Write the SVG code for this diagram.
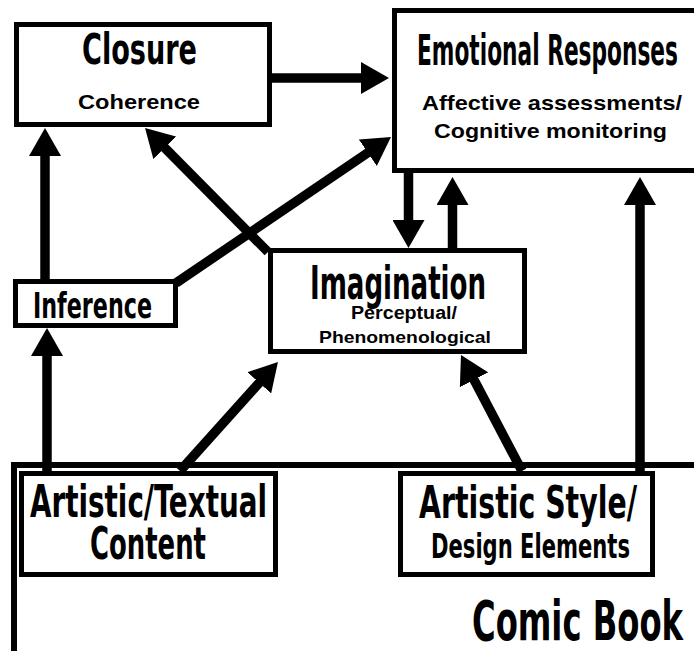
<svg xmlns="http://www.w3.org/2000/svg" width="694" height="651" viewBox="0 0 694 651">
<style>
.box{fill:#fff;stroke:#000;stroke-width:5}
.frame{fill:none;stroke:#000;stroke-width:6}
.conn{stroke:#000;stroke-width:9.5;fill:none;marker-end:url(#ah)}
.t{font-family:"DejaVu Sans Condensed","DejaVu Sans",sans-serif;font-weight:bold;fill:#000;text-anchor:middle}
.s{font-family:"Liberation Sans",Arial,sans-serif;font-weight:bold;fill:#000;text-anchor:middle}
</style>
<defs>
<marker id="ah" viewBox="0 0 28 32" refX="14" refY="16" markerWidth="28" markerHeight="32" markerUnits="userSpaceOnUse" orient="auto">
<path d="M0,0 L28,16 L0,32 Z" fill="#000"/>
</marker>
</defs>
<rect width="694" height="651" fill="#fff"/>
<g id="comic-book">
<rect class="frame" x="14" y="465" width="700" height="200"/>
<text class="t" x="577.5" y="640" font-size="56" textLength="211" lengthAdjust="spacingAndGlyphs">Comic Book</text>
</g>
<g id="connectors">
<line class="conn" x1="272" y1="78" x2="375" y2="78"/>
<line class="conn" x1="45" y1="280" x2="45" y2="142"/>
<line class="conn" x1="268" y1="252" x2="154.9" y2="137.9"/>
<line class="conn" x1="176" y1="283" x2="379.4" y2="144.9"/>
<line class="conn" x1="408.5" y1="172" x2="408.5" y2="234"/>
<line class="conn" x1="452.5" y1="249" x2="452.5" y2="191"/>
<line class="conn" x1="47" y1="472" x2="47" y2="342"/>
<line class="conn" x1="180" y1="471" x2="268.6" y2="372.4"/>
<line class="conn" x1="522" y1="471" x2="467.5" y2="367.4"/>
<line class="conn" x1="640" y1="472" x2="640" y2="191"/>
</g>
<g id="closure">
<rect class="box" x="16.5" y="24.5" width="253" height="100"/>
<text class="t" x="139.5" y="64" font-size="42" textLength="115" lengthAdjust="spacingAndGlyphs">Closure</text>
<text class="s" x="139" y="109" font-size="21" textLength="122" lengthAdjust="spacingAndGlyphs">Coherence</text>
</g>
<g id="emotional-responses">
<rect class="box" x="394.5" y="10.5" width="305" height="160"/>
<text class="t" x="547.5" y="65" font-size="43" textLength="261" lengthAdjust="spacingAndGlyphs">Emotional Responses</text>
<text class="s" x="552" y="110" font-size="21" textLength="260" lengthAdjust="spacingAndGlyphs">Affective assessments/</text>
<text class="s" x="550.5" y="138" font-size="21" textLength="233" lengthAdjust="spacingAndGlyphs">Cognitive monitoring</text>
</g>
<g id="inference">
<rect class="box" x="15.5" y="281.5" width="160" height="44"/>
<text class="t" x="92.5" y="318" font-size="36" textLength="119" lengthAdjust="spacingAndGlyphs">Inference</text>
</g>
<g id="imagination">
<rect class="box" x="270.5" y="250.5" width="254" height="101"/>
<text class="t" x="398" y="299" font-size="46" textLength="176" lengthAdjust="spacingAndGlyphs">Imagination</text>
<text class="s" x="404" y="319" font-size="18" textLength="106" lengthAdjust="spacingAndGlyphs">Perceptual/</text>
<text class="s" x="405" y="343" font-size="17" textLength="172" lengthAdjust="spacingAndGlyphs">Phenomenological</text>
</g>
<g id="artistic-textual-content">
<rect class="box" x="21.5" y="473.5" width="254" height="101"/>
<text class="t" x="148.5" y="517" font-size="44" textLength="237" lengthAdjust="spacingAndGlyphs">Artistic/Textual</text>
<text class="t" x="148" y="559" font-size="44" textLength="116" lengthAdjust="spacingAndGlyphs">Content</text>
</g>
<g id="artistic-style">
<rect class="box" x="400.5" y="473.5" width="252" height="101"/>
<text class="t" x="528" y="518" font-size="44" textLength="218" lengthAdjust="spacingAndGlyphs">Artistic Style/</text>
<text class="t" x="530.5" y="558" font-size="33" textLength="199" lengthAdjust="spacingAndGlyphs">Design Elements</text>
</g>
</svg>
